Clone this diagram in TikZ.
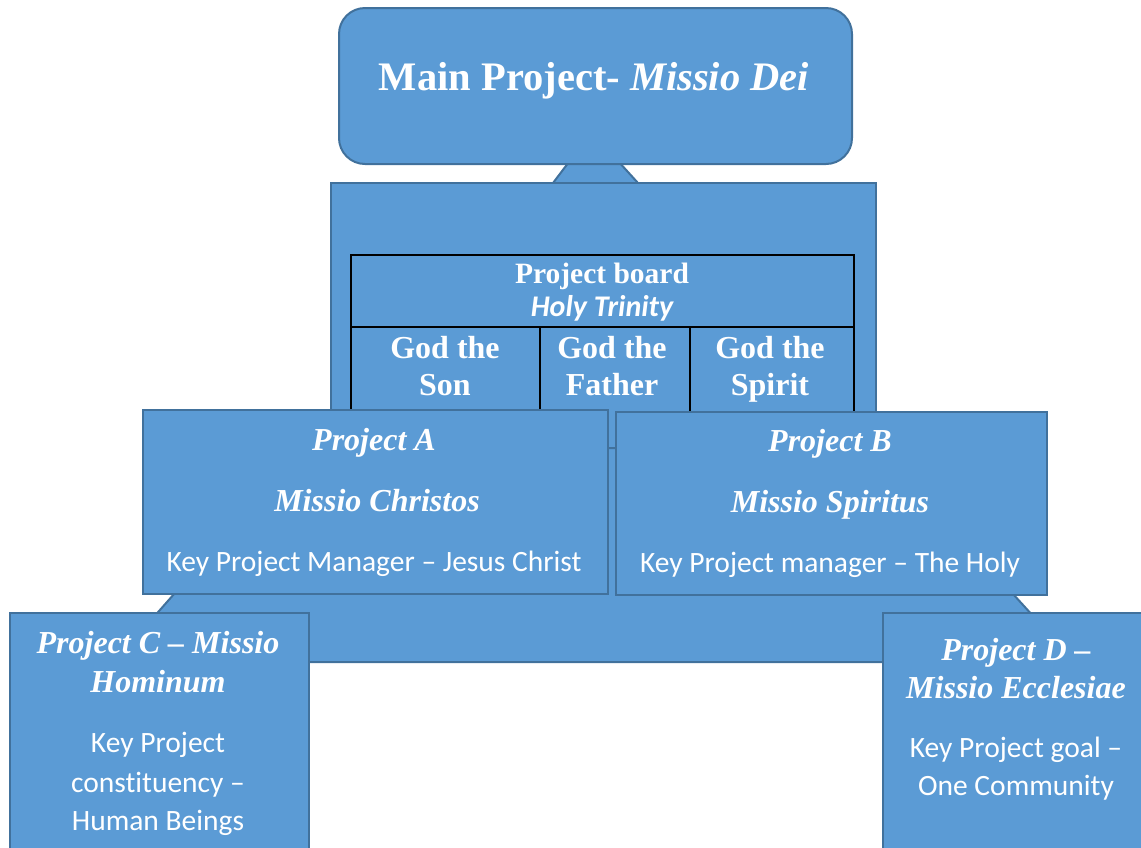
\documentclass[tikz,border=0pt]{standalone}
\usepackage{fontspec}
\setmainfont{Liberation Serif}
\newfontfamily\calibri[Ligatures={TeX,NoCommon}]{Carlito}
\definecolor{boxfill}{HTML}{5B9BD5}
\definecolor{boxline}{HTML}{41719C}

\begin{document}
\begin{tikzpicture}[x=1pt, y=-1pt,
  box/.style={rectangle, draw=boxline, fill=boxfill, line width=2pt, anchor=north west, inner sep=0pt},
  plate/.style={draw=boxline, fill=boxfill, line width=2pt},
  grid/.style={draw=black, line width=1.8pt},
  every node/.style={text=white, inner sep=0pt, anchor=base},
  head/.style={font=\fontsize{32}{36}\selectfont\bfseries\itshape},
  board/.style={font=\fontsize{32}{36}\selectfont\bfseries},
  body/.style={font=\fontsize{29.5}{36}\selectfont\calibri}]
  \useasboundingbox (0,0) rectangle (1141,847);
  \clip (0,0) rectangle (1141,847);

  % connectors behind the boxes
  \draw[plate] (553,183) -- (578,150) -- (608,150) -- (638,183) -- cycle;
  \node[box, rounded corners=26pt, minimum width=513pt, minimum height=156pt] (main) at (338,7) {};
  \node[box, minimum width=545pt, minimum height=478pt] (frame) at (330,182) {};

  % project board table
  \draw[grid] (351,255) rectangle (854,480);
  \draw[grid] (351,327) -- (854,327);
  \draw[grid] (540,327) -- (540,480);
  \draw[grid] (690,327) -- (690,480);

  \draw[plate] (303,448) -- (880,448) -- (1075,662) -- (114,662) -- cycle;

  \node[box, minimum width=465pt, minimum height=184pt] (pa) at (142,409) {};
  \node[box, minimum width=431pt, minimum height=183pt] (pb) at (615,411) {};
  \node[box, minimum width=299pt, minimum height=260pt] (pc) at (9,612) {};
  \node[box, minimum width=280pt, minimum height=260pt] (pd) at (882,612) {};

  % texts
  \node[font=\fontsize{40.5}{48}\selectfont\bfseries] (mt) at (594,90) {Main Project- \textit{Missio Dei}};

  \node[font=\fontsize{29.5}{36}\selectfont\bfseries] (pbd) at (602,283) {Project board};
  \node[font=\fontsize{30}{34}\selectfont\calibri\bfseries\itshape] (ht) at (602,316) {Holy Trinity};
  \node[board] (s1) at (445,358) {God the};
  \node[board] (s2) at (445,395) {Son};
  \node[board] (f1) at (612,358) {God the};
  \node[board] (f2) at (612,395) {Father};
  \node[board] (h1) at (770,358) {God the};
  \node[board] (h2) at (770,395) {Spirit};

  \node[head] (a1) at (374,450) {Project A};
  \node[head] (a2) at (377,511) {Missio Christos};
  \node[body] (a3) at (374,571) {Key Project Manager -- Jesus Christ};

  \node[head] (b1) at (830,451) {Project B};
  \node[head] (b2) at (830,512) {Missio Spiritus};
  \node[body] (b3) at (830,572) {Key Project manager -- The Holy};

  \node[head] (c1) at (158,653) {Project C -- Missio};
  \node[head] (c2) at (158,692) {Hominum};
  \node[body] (c3) at (158,752) {Key Project};
  \node[body] (c4) at (158,792) {constituency --};
  \node[body] (c5) at (158,830) {Human Beings};

  \node[head] (d1) at (1016,660) {Project D --};
  \node[head] (d2) at (1016,698) {Missio Ecclesiae};
  \node[body] (d3) at (1016,757) {Key Project goal --};
  \node[body] (d4) at (1016,795) {One Community};
\end{tikzpicture}
\end{document}
